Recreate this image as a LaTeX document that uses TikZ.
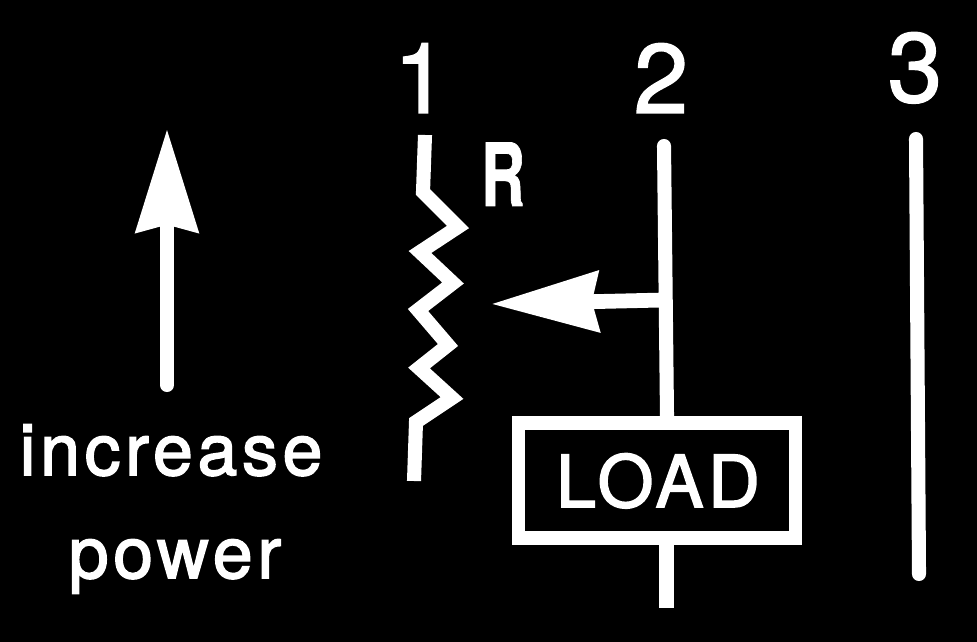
\documentclass[tikz,border=0pt]{standalone}
\usepackage{fontspec}
\setmainfont{TeX Gyre Heros}
\newfontfamily\labelfont[FakeBold=2.2,LetterSpace=6.5]{TeX Gyre Heros}
\newfontfamily\digitfont[FakeBold=1.4]{TeX Gyre Heros}
\newfontfamily\resfont[FakeBold=1]{TeX Gyre Heros}
\usetikzlibrary{arrows.meta}
\tikzset{
  wire/.style={white, line width=10pt},
  textlabel/.style={white, anchor=base, inner sep=0pt, font=\labelfont\fontsize{51}{60}\selectfont},
  numlabel/.style={white, anchor=base, inner sep=0pt, font=\digitfont\fontsize{70}{80}\selectfont},
  bigarrow/.style={white, line width=10pt, line cap=round, -{Stealth[length=73pt,width=43.5pt,inset=5pt]}},
  tiparrow/.style={white, line width=10.5pt, -{Stealth[length=76pt,width=42pt,inset=4.3pt]}}
}
\begin{document}
\begin{tikzpicture}[x=0.025cm,y=-0.025cm]
\fill [black] (0,0) rectangle (977,642);
\useasboundingbox (0,0) rectangle (977,642);
% power arrow
\coordinate (powerbase) at (167,385);
\coordinate (powertip) at (167,129);
\draw [bigarrow] (powerbase) -- (powertip);
\node [textlabel] (inc) at (171,475) {increase};
\node [textlabel] (pow) at (175,578) {power};
% lines
\node [numlabel] (one) at (421,113) {1};
\node [numlabel] (two) at (661,113) {2};
\node [numlabel] (three) at (915,102) {3};
\node [white, anchor=base, inner sep=0pt, font=\resfont\bfseries\fontsize{62}{70}\selectfont] (res) at (503,206) {\scalebox{.7}[1]{R}};
% resistor
\coordinate (a) at (425,135);
\coordinate (b) at (423,192);
\coordinate (c) at (458,227);
\coordinate (d) at (420,252);
\coordinate (e) at (453,283);
\coordinate (f) at (418,310);
\coordinate (g) at (448,345);
\coordinate (h) at (419,368);
\coordinate (i) at (452,398);
\coordinate (k) at (416,422);
\coordinate (m) at (414,481);
\draw [wire] (a) -- (b) -- (c) -- (d) -- (e) -- (f) -- (g) -- (h) -- (i) -- (k) -- (m);
% load line
\node [draw=white, line width=9.8pt, minimum width=6.925cm, minimum height=2.875cm, inner sep=0pt] (load) at (657,480.5) {};
\node [textlabel] (loadtxt) at (658,507) {LOAD};
\coordinate (ltop) at (664,146);
\coordinate (lmid) at (667,416);
\coordinate (lstub) at (666.5,545);
\coordinate (lbot) at (666.5,608);
\coordinate (tap) at (664,300);
\coordinate (taptip) at (491,304);
\draw [wire, line cap=round] (ltop) -- (lmid);
\draw [wire] (lstub) -- (lbot);
\draw [tiparrow] (tap) -- (taptip);
% line 3
\coordinate (ttop) at (916,139);
\coordinate (tbot) at (919,574);
\draw [wire, line cap=round] (ttop) -- (tbot);
\end{tikzpicture}
\end{document}
